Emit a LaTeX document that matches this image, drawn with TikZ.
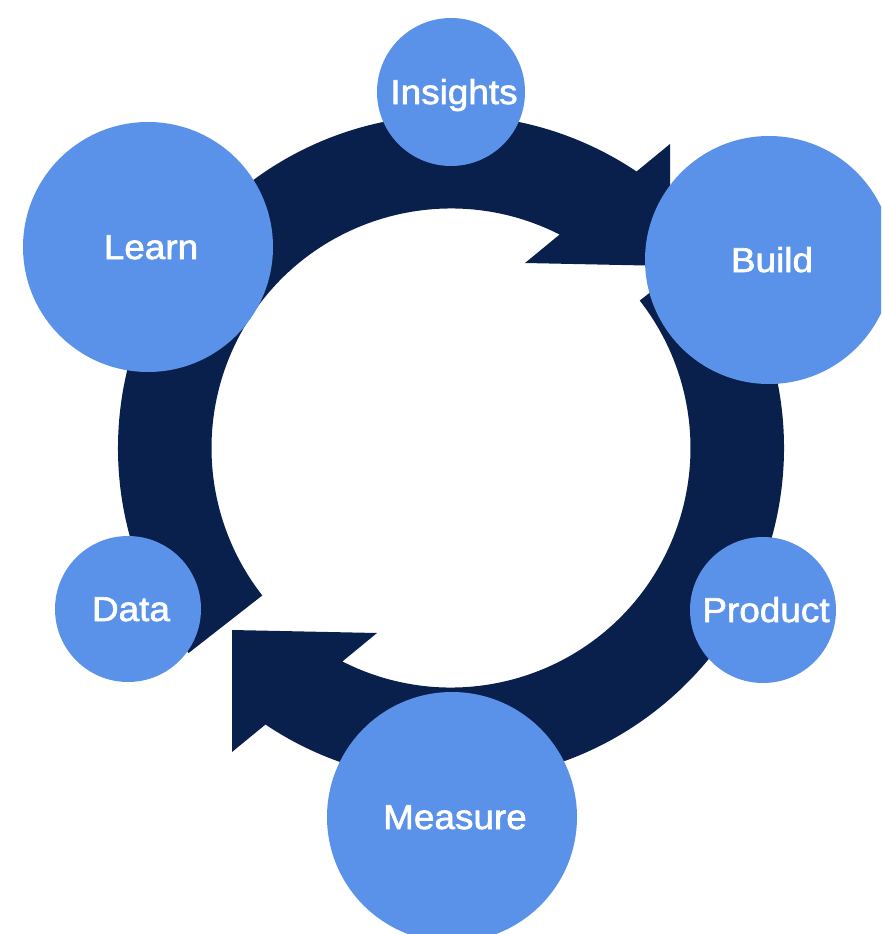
\documentclass[tikz,border=0pt]{standalone}
\usepackage{fontspec}
\setmainfont{Liberation Sans}
\usetikzlibrary{calc}
\definecolor{ringnavy}{HTML}{091F4C}
\definecolor{bubble}{HTML}{5B92E9}
\begin{document}
\begin{tikzpicture}[x=1pt,y=1pt,
  bubblenode/.style={circle, fill=bubble, inner sep=0pt, text=white,
    font=\fontsize{34.5}{34.5}\selectfont\addfontfeature{FakeBold=1.8,FakeStretch=1.07},
    text height=24pt, text depth=0pt, execute at begin node={\hspace*{6pt}}},
  ringarrow/.style={fill=ringnavy}]
\useasboundingbox (0,0) rectangle (881,-934);
\clip (0,0) rectangle (881,-934);
\coordinate (C) at (451,-448);
% upper arrow: from Data round over the top to Build
\fill[ringarrow] ($(C)+(218:333pt)$) arc[start angle=218,end angle=56.14,radius=333pt]
  -- (670,-144) -- (670,-266) -- (525,-263)
  -- ($(C)+(63.03:239.5pt)$) arc[start angle=63.03,end angle=218,radius=239.5pt] -- cycle;
% lower arrow: from Build round the bottom towards Data
\fill[ringarrow] ($(C)+(38:333pt)$) arc[start angle=38,end angle=-123.86,radius=333pt]
  -- (232,-752) -- (232,-630) -- (377,-633)
  -- ($(C)+(-116.97:239.5pt)$) arc[start angle=-116.97,end angle=38,radius=239.5pt] -- cycle;
\node[bubblenode, minimum size=148pt] (insights) at (451,-92) {Insights};
\node[bubblenode, minimum size=250pt] (learn) at (148,-247) {Learn};
\node[bubblenode, minimum size=248pt] (build) at (769,-260) {Build};
\node[bubblenode, minimum size=146pt] (product) at (763,-610) {Product};
\node[bubblenode, minimum size=146pt] (data) at (128,-609) {Data};
\node[bubblenode, minimum size=250pt] (measure) at (452,-817) {Measure};
\end{tikzpicture}
\end{document}
